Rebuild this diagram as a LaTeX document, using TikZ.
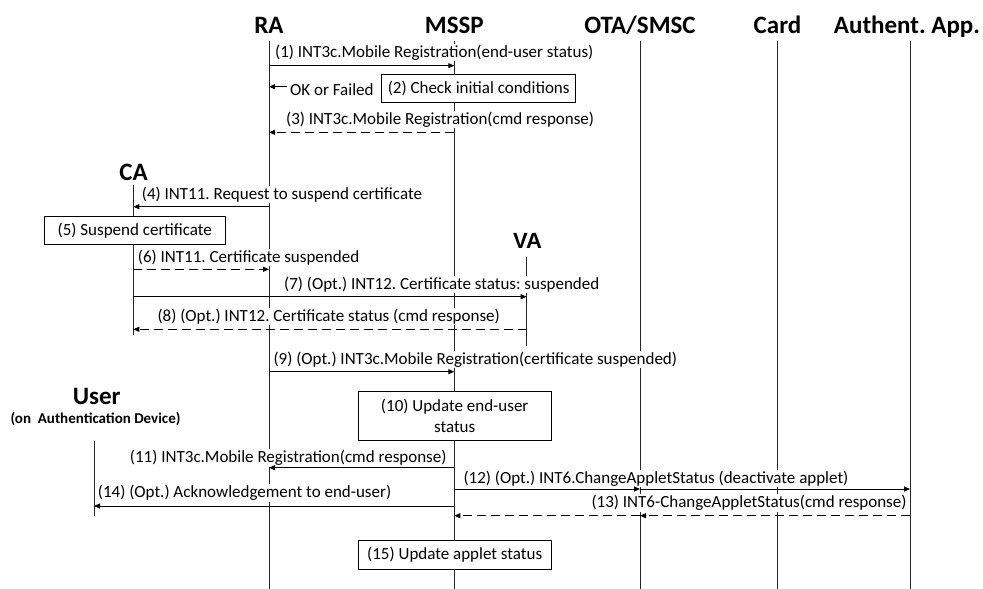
\documentclass[tikz,border=0pt]{standalone}
\usepackage{fontspec}
\setmainfont{Carlito}
\newfontfamily\vafont{Liberation Sans}
\usetikzlibrary{arrows.meta}
\frenchspacing
\begin{document}
\begin{tikzpicture}[x=1pt,y=-1pt,
  hdr/.style={font=\fontsize{25}{30}\selectfont\bfseries, anchor=base, inner sep=0pt},
  life/.style={line width=0.9pt, draw=black!85},
  msg/.style={line width=0.9pt, -{Triangle[length=6pt,width=5pt]}},
  rsp/.style={msg, dash pattern=on 9pt off 5pt},
  lbl/.style={font=\fontsize{17}{19}\selectfont, fill=white, inner xsep=0.5pt, inner ysep=1pt, anchor=base west},
  lble/.style={lbl, anchor=base east},
  procbox/.style={draw, line width=0.9pt, fill=white, font=\fontsize{17}{21}\selectfont, align=center, inner sep=0pt}
]
\useasboundingbox (0,0) rectangle (983,589);

% headers
\node[hdr] (RA) at (269,33) {RA};
\node[hdr] (MSSP) at (454.3,33) {MSSP};
\node[hdr] (OTA) at (640,33) {OTA/SMSC};
\node[hdr] (Card) at (777.5,33) {Card};
\node[hdr] (AA) at (907,33) {Authent. App.};
\node[hdr] (CA) at (133.5,180) {CA};
\node[hdr, font=\vafont\fontsize{22}{26}\selectfont\bfseries] (VA) at (527.5,248.3) {VA};
\node[hdr] (User) at (96.7,404) {User};
\node[hdr, font=\fontsize{15}{17}\selectfont\bfseries] (UserSub) at (95.5,423.3) {(on\ \ Authentication Device)};

% lifeline coordinates
\coordinate (RAt) at (269,40.5);   \coordinate (RAb) at (269,589);
\coordinate (MSt) at (454.3,40.5); \coordinate (MSb) at (454.3,589);
\coordinate (OTt) at (640,40.5);   \coordinate (OTb) at (640,589);
\coordinate (CDt) at (777.7,40.5); \coordinate (CDb) at (777.7,589);
\coordinate (AAt) at (910,40.5);   \coordinate (AAb) at (910,589);
\coordinate (CAt) at (133.3,185);  \coordinate (CAb) at (133.3,335);
\coordinate (VAt) at (526.7,256.7);\coordinate (VAb) at (526.7,345.7);
\coordinate (USt) at (94,441);     \coordinate (USb) at (94,515.7);

\draw[life] (RAt) -- (RAb);
\draw[life] (MSt) -- (MSb);
\draw[life] (OTt) -- (OTb);
\draw[life] (CDt) -- (CDb);
\draw[life] (AAt) -- (AAb);
\draw[life] (CAt) -- (CAb);
\draw[life] (VAt) -- (VAb);
\draw[life] (USt) -- (USb);

% labels
\node[lbl] (l1) at (274.5,57) {(1) INT3c.Mobile Registration(end-user status)};
\node[lbl] (lok) at (289.5,95) {OK or Failed};
\node[lbl] (l3) at (285.5,124) {(3) INT3c.Mobile Registration(cmd response)};
\node[lbl] (l4) at (141.2,199) {(4) INT11. Request to suspend certificate};
\node[lbl] (l6) at (137.2,262.3) {(6) INT11. Certificate suspended};
\node[lbl] (l7) at (283.5,289) {(7) (Opt.) INT12. Certificate status: suspended};
\node[lbl] (l8) at (156.8,321) {(8) (Opt.) INT12. Certificate status (cmd response)};
\node[lbl] (l9) at (272.8,364) {(9) (Opt.) INT3c.Mobile Registration(certificate suspended)};
\node[lble] (l11) at (447.2,462.7) {(11) INT3c.Mobile Registration(cmd response)};
\node[lbl] (l12) at (462.8,483.3) {(12) (Opt.) INT6.ChangeAppletStatus (deactivate applet)};
\node[lbl] (l14) at (97.2,497.7) {(14) (Opt.) Acknowledgement to end-user)};
\node[lble] (l13) at (907.2,507.7) {(13) INT6-ChangeAppletStatus(cmd response)};

% boxes
\node[procbox, minimum width=194pt, minimum height=28.4pt] (b2) at (478.7,88.5) {(2) Check initial conditions};
\node[procbox, minimum width=181pt, minimum height=28.3pt] (b5) at (134.8,230.2) {(5) Suspend certificate};
\node[procbox, minimum width=192.7pt, minimum height=48.3pt] (b10) at (454.7,415.8) {(10) Update end-user\\status};
\node[procbox, minimum width=192.7pt, minimum height=28.3pt] (b15) at (454.7,554.8) {(15) Update applet status};

% messages
\coordinate (okS) at (287,86.7);
\draw[msg] (RAt |- 0,65.7) -- (MSt |- 0,65.7);
\draw[msg] (okS) -- (RAt |- okS);
\draw[rsp] (MSt |- 0,132.3) -- (RAt |- 0,132.3);
\draw[msg] (RAt |- 0,206.7) -- (CAt |- 0,206.7);
\draw[rsp] (CAt |- 0,269.3) -- (RAt |- 0,269.3);
\draw[msg] (CAt |- 0,296.7) -- (VAt |- 0,296.7);
\draw[rsp] (VAt |- 0,329.3) -- (CAt |- 0,329.3);
\draw[msg] (RAt |- 0,371.7) -- (MSt |- 0,371.7);
\draw[msg] (MSt |- 0,467.7) -- (RAt |- 0,467.7);
\draw[msg] (MSt |- 0,489) -- (OTt |- 0,489);
\draw[msg] (OTt |- 0,489) -- (AAt |- 0,489);
\draw[msg] (MSt |- 0,506) -- (USt |- 0,506);
\draw[rsp] (AAt |- 0,515.7) -- (OTt |- 0,515.7);
\draw[rsp] (OTt |- 0,515.7) -- (MSt |- 0,515.7);
\end{tikzpicture}
\end{document}
